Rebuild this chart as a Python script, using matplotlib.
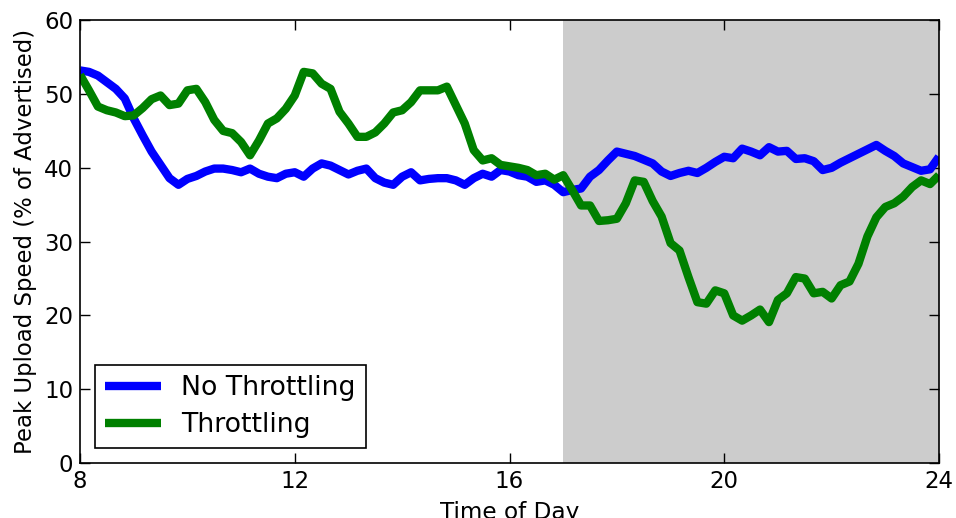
import numpy as np
import matplotlib
matplotlib.use('Agg')
import matplotlib.pyplot as plt

# samples every 10 minutes from 8:00 to 24:00
hours = np.linspace(8, 24, 97)

no_throttling = [
    53.2, 53.0, 52.5, 51.6, 50.7, 49.4, 46.7, 44.4, 42.2, 40.4,
    38.6, 37.7, 38.5, 38.9, 39.5, 39.9, 39.9, 39.7, 39.4, 39.9,
    39.2, 38.8, 38.6, 39.2, 39.4, 38.8, 39.9, 40.6, 40.3, 39.7,
    39.1, 39.6, 39.9, 38.6, 38.0, 37.7, 38.8, 39.4, 38.3, 38.5,
    38.6, 38.6, 38.3, 37.7, 38.6, 39.2, 38.8, 39.7, 39.5, 39.0,
    38.8, 38.1, 38.3, 37.7, 36.7, 37.0, 37.2, 38.8, 39.7, 41.0,
    42.2, 41.9, 41.6, 41.1, 40.6, 39.5, 38.9, 39.3, 39.6, 39.3,
    40.0, 40.8, 41.5, 41.3, 42.6, 42.2, 41.7, 42.8, 42.2, 42.3,
    41.2, 41.3, 40.9, 39.7, 40.0, 40.7, 41.3, 41.9, 42.5, 43.1,
    42.3, 41.6, 40.6, 40.1, 39.6, 39.8, 41.5,
]

throttling = [
    52.6, 50.5, 48.3, 47.8, 47.5, 47.0, 47.1, 48.1, 49.3, 49.8,
    48.5, 48.7, 50.5, 50.7, 48.9, 46.5, 45.0, 44.7, 43.5, 41.7,
    43.7, 46.0, 46.7, 48.0, 49.8, 53.0, 52.8, 51.4, 50.7, 47.6,
    46.0, 44.2, 44.2, 44.8, 46.0, 47.5, 47.8, 48.9, 50.5, 50.5,
    50.5, 51.0, 48.5, 46.0, 42.4, 41.0, 41.3, 40.4, 40.2, 40.0,
    39.7, 39.0, 39.2, 38.4, 39.0, 37.0, 34.9, 34.9, 32.8, 32.9,
    33.1, 35.2, 38.3, 38.1, 35.5, 33.4, 29.8, 28.8, 25.2, 21.8,
    21.6, 23.4, 23.0, 20.0, 19.3, 20.0, 20.8, 19.1, 22.1, 23.0,
    25.2, 25.0, 23.0, 23.2, 22.3, 24.1, 24.6, 27.0, 30.7, 33.3,
    34.7, 35.2, 36.1, 37.4, 38.3, 37.8, 39.0,
]

xticks = [8, 12, 16, 20, 24]
yticks = [0, 10, 20, 30, 40, 50, 60]

plt.rcParams['font.family'] = 'DejaVu Sans'
plt.rcParams['xtick.direction'] = 'in'
plt.rcParams['ytick.direction'] = 'in'

fig = plt.figure(figsize=(9.56, 5.18), dpi=100)
ax = fig.add_axes([0.0837, 0.106, 0.8985, 0.855])

# evening period shaded
ax.axvspan(17, 24, color='#cccccc', lw=0, zorder=0)

ax.plot(hours, no_throttling, color='#0000ff', lw=6, label='No Throttling',
        solid_joinstyle='round', solid_capstyle='butt')
ax.plot(hours, throttling, color='#008000', lw=6, label='Throttling',
        solid_joinstyle='round', solid_capstyle='butt')

ax.set_xlim(8, 24)
ax.set_ylim(0, 60)
ax.set_xticks(xticks)
ax.set_yticks(yticks)
ax.tick_params(top=True, right=True, length=7, width=1, labelsize=16.5, pad=5)
for s in ax.spines.values():
    s.set_linewidth(1.2)

ax.set_xlabel('Time of Day', fontsize=16.7, labelpad=6)
ax.set_ylabel('Peak Upload Speed (% of Advertised)', fontsize=16.4, labelpad=5)

leg = ax.legend(loc='lower left', fontsize=19.3, fancybox=False, framealpha=1,
                edgecolor='black', handlelength=2.1, handletextpad=0.75,
                borderaxespad=0.55, borderpad=0.38, labelspacing=0.4)
leg.get_frame().set_linewidth(1.2)

fig.savefig('out.png', dpi=100)
